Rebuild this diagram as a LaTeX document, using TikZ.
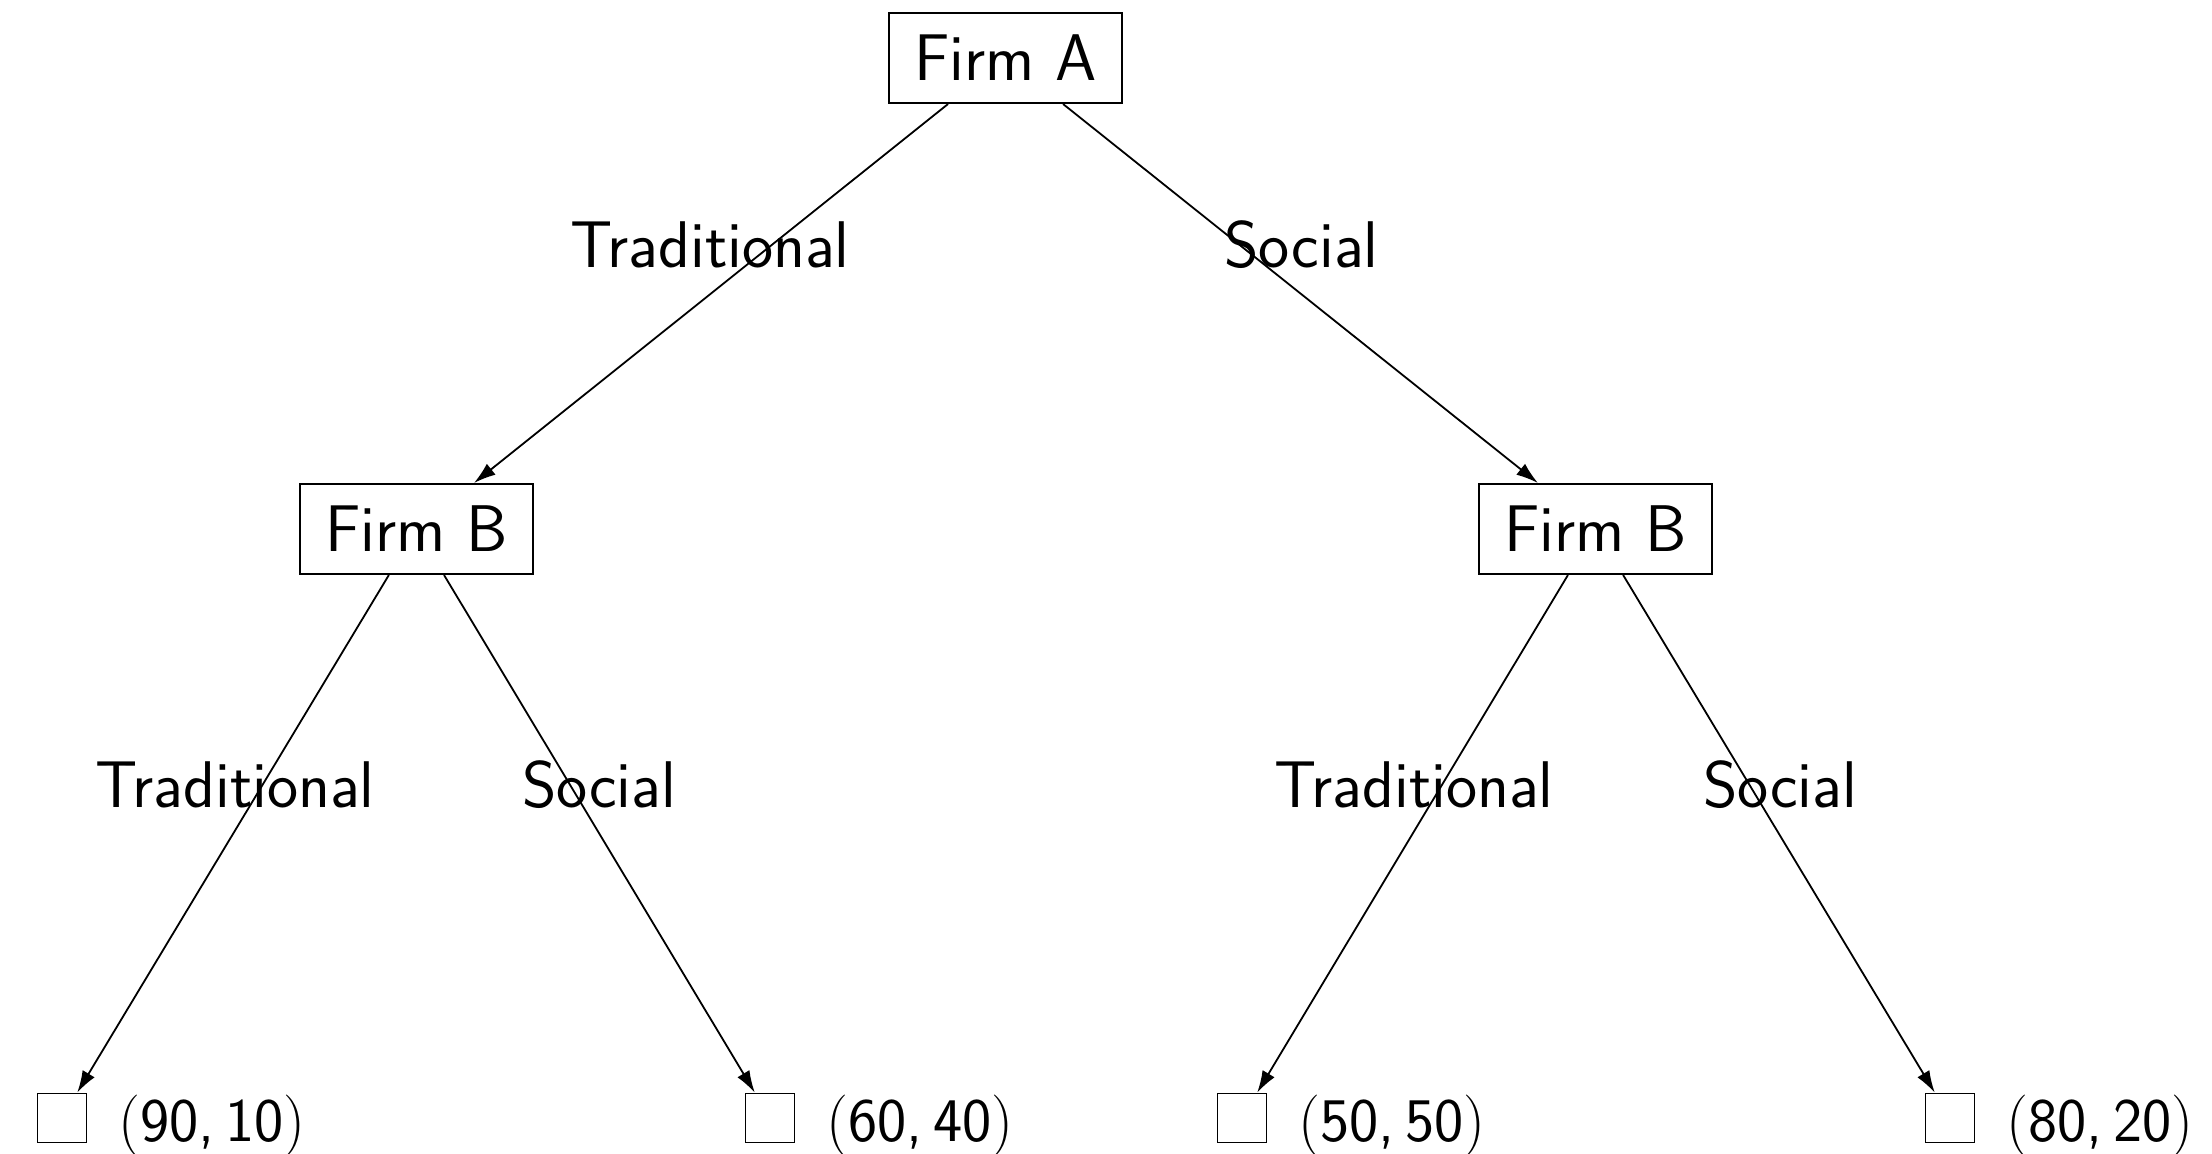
\documentclass[tikz,border=0pt]{standalone}
\usetikzlibrary{arrows.meta}
\newcommand{\payoffpair}[2]{{\rmfamily(}#1,\,#2{\rmfamily)}}
\begin{document}
\begin{tikzpicture}[x=0.5pt,y=-0.5pt,
  every node/.style={font=\fontsize{33}{39}\selectfont\sffamily},
  player/.style={draw,line width=1pt,inner sep=0pt,minimum width=116.5pt,minimum height=45pt},
  leaf/.style={draw,line width=0.9pt,inner sep=0pt,minimum size=24.5pt},
  payoff/.style={anchor=base west,inner sep=0pt,font=\fontsize{31}{37}\selectfont\sffamily},
  elabel/.style={anchor=base,inner sep=0pt},
  arr/.style={line width=0.9pt,-{Latex[length=11pt,width=7pt]}}]
\useasboundingbox (0,0) rectangle (2212,1153);
\node[player] (A) at (1005.5,58) {Firm A};
\node[player] (B1) at (416.5,529) {Firm B};
\node[player] (B2) at (1595.5,529) {Firm B};
\node[leaf] (l1) at (62,1118) {};
\node[leaf] (l2) at (770,1118) {};
\node[leaf] (l3) at (1242,1118) {};
\node[leaf] (l4) at (1950,1118) {};
\node[payoff] (p1) at (118,1141) {\payoffpair{90}{10}};
\node[payoff] (p2) at (826,1141) {\payoffpair{60}{40}};
\node[payoff] (p3) at (1298,1141) {\payoffpair{50}{50}};
\node[payoff] (p4) at (2006,1141) {\payoffpair{80}{20}};
\draw[arr] (A) -- (B1);
\draw[arr] (A) -- (B2);
\draw[arr] (B1) -- (l1);
\draw[arr] (B1) -- (l2);
\draw[arr] (B2) -- (l3);
\draw[arr] (B2) -- (l4);
\node[elabel] (t1) at (710,267) {Traditional};
\node[elabel] (s1) at (1301.5,267) {Social};
\node[elabel] (t2) at (235,807) {Traditional};
\node[elabel] (s2) at (599,807) {Social};
\node[elabel] (t3) at (1414,807) {Traditional};
\node[elabel] (s3) at (1780,807) {Social};
\end{tikzpicture}
\end{document}
